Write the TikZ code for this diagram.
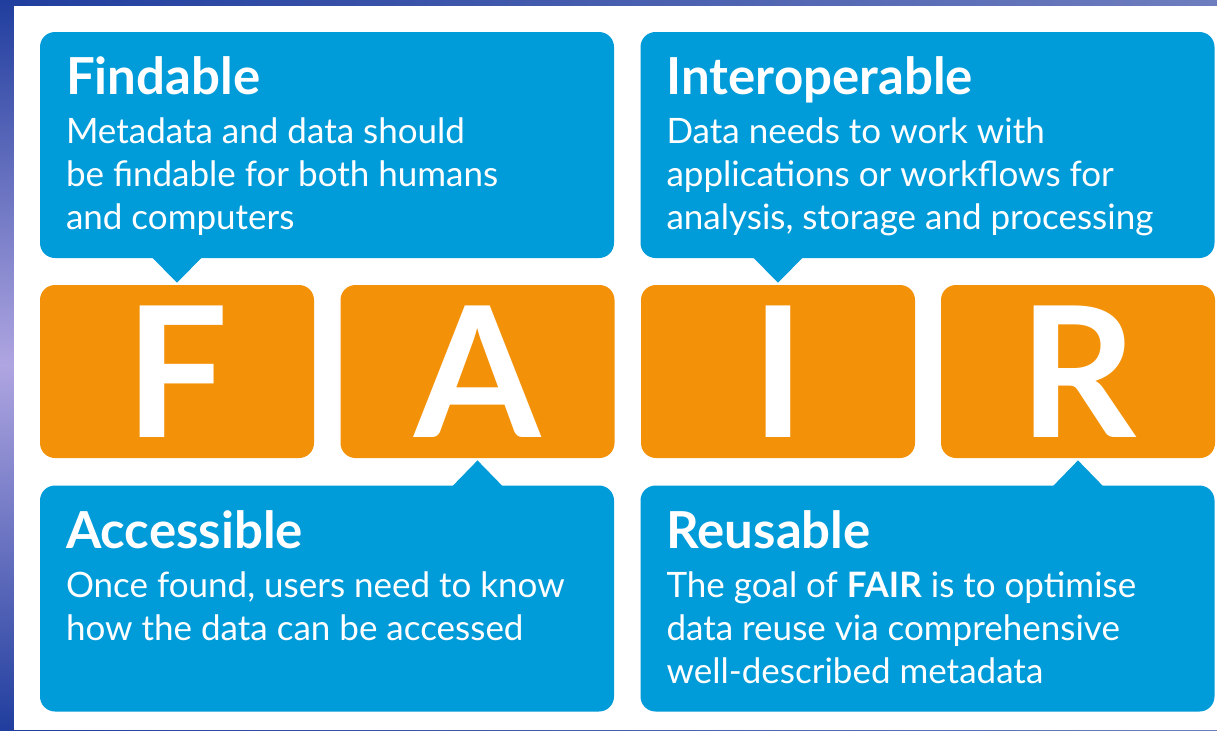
\documentclass[tikz,border=0pt]{standalone}
\usepackage{fontspec}
\setmainfont{Lato}
\usetikzlibrary{calc}

\definecolor{fairblue}{RGB}{0,155,217}
\definecolor{fairorange}{RGB}{243,146,8}
\definecolor{bgdark}{RGB}{32,62,158}
\definecolor{bglight}{RGB}{110,125,190}
\definecolor{bglilac}{RGB}{175,165,225}

\tikzset{
  infobox/.style={fill=fairblue, rounded corners=7.5pt, minimum width=287pt, minimum height=113pt, inner sep=0pt},
  letterbox/.style={fill=fairorange, rounded corners=7.5pt, minimum width=137pt, minimum height=86.5pt, inner sep=0pt, text=white, font=\fontsize{91}{91}\selectfont\bfseries},
  boxtitle/.style={anchor=base west, inner sep=0pt, text=white, font=\fontsize{25.5}{25.5}\selectfont\bfseries},
  boxtext/.style={anchor=north west, inner sep=0pt, text=white, align=left, font=\fontsize{17.5}{21.5}\selectfont},
  pointer/.style={fill=fairblue}
}

\begin{document}
\begin{tikzpicture}[x=0.5pt, y=-0.5pt]
	% background and white panel
	\useasboundingbox (0,0) rectangle (1217,730);
	\shade[left color=bgdark, right color=bglight] (0,0) rectangle (1217,730);
	\shade[top color=bgdark, bottom color=bgdark, middle color=bglilac] (0,0) rectangle (14,730);
	\fill[white] (14,6) rectangle (1217,730);

	% blue boxes
	\node[infobox] (findable) at (327,145) {};
	\node[infobox] (interop) at (927.5,145) {};
	\node[infobox] (access) at (327,598.5) {};
	\node[infobox] (reuse) at (927.5,598.5) {};

	% orange letters
	\node[letterbox] (F) at (177,371.5) {F};
	\node[letterbox] (A) at (477.5,371.5) {A};
	\node[letterbox] (I) at (778,371.5) {I};
	\node[letterbox] (R) at (1078,371.5) {R};

	% pointers
	\fill[pointer] ($(F.north |- findable.south)+(-25,-1)$) -- ($(F.north)+(0,-2)$) -- ($(F.north |- findable.south)+(25,-1)$) -- cycle;
	\fill[pointer] ($(I.north |- interop.south)+(-25,-1)$) -- ($(I.north)+(0,-2)$) -- ($(I.north |- interop.south)+(25,-1)$) -- cycle;
	\fill[pointer] ($(A.south |- access.north)+(-25,1)$) -- ($(A.south)+(0,2)$) -- ($(A.south |- access.north)+(25,1)$) -- cycle;
	\fill[pointer] ($(R.south |- reuse.north)+(-25,1)$) -- ($(R.south)+(0,2)$) -- ($(R.south |- reuse.north)+(25,1)$) -- cycle;

	% texts (\strut: first baseline sits 30 units below the node top)
	\node[boxtitle] (findtitle) at ($(findable.north west)+(26,63)$) {Findable};
	\node[boxtext] (findtext) at ($(findable.north west)+(26,81)$) {\strut Metadata and data should\\be findable for both humans\\and computers};
	\node[boxtitle] (interoptitle) at ($(interop.north west)+(26,63)$) {Interoperable};
	\node[boxtext] (interoptext) at ($(interop.north west)+(26,81)$) {\strut Data needs to work with\\applications or workflows for\\analysis, storage and processing};
	\node[boxtitle] (accesstitle) at ($(access.north west)+(26,63)$) {Accessible};
	\node[boxtext] (accesstext) at ($(access.north west)+(26,82)$) {\strut Once found, users need to know\\how the data can be accessed};
	\node[boxtitle] (reusetitle) at ($(reuse.north west)+(26,63)$) {Reusable};
	\node[boxtext] (reusetext) at ($(reuse.north west)+(26,82)$) {\strut The goal of \textbf{FAIR} is to optimise\\data reuse via comprehensive\\well-described metadata};
\end{tikzpicture}
\end{document}
